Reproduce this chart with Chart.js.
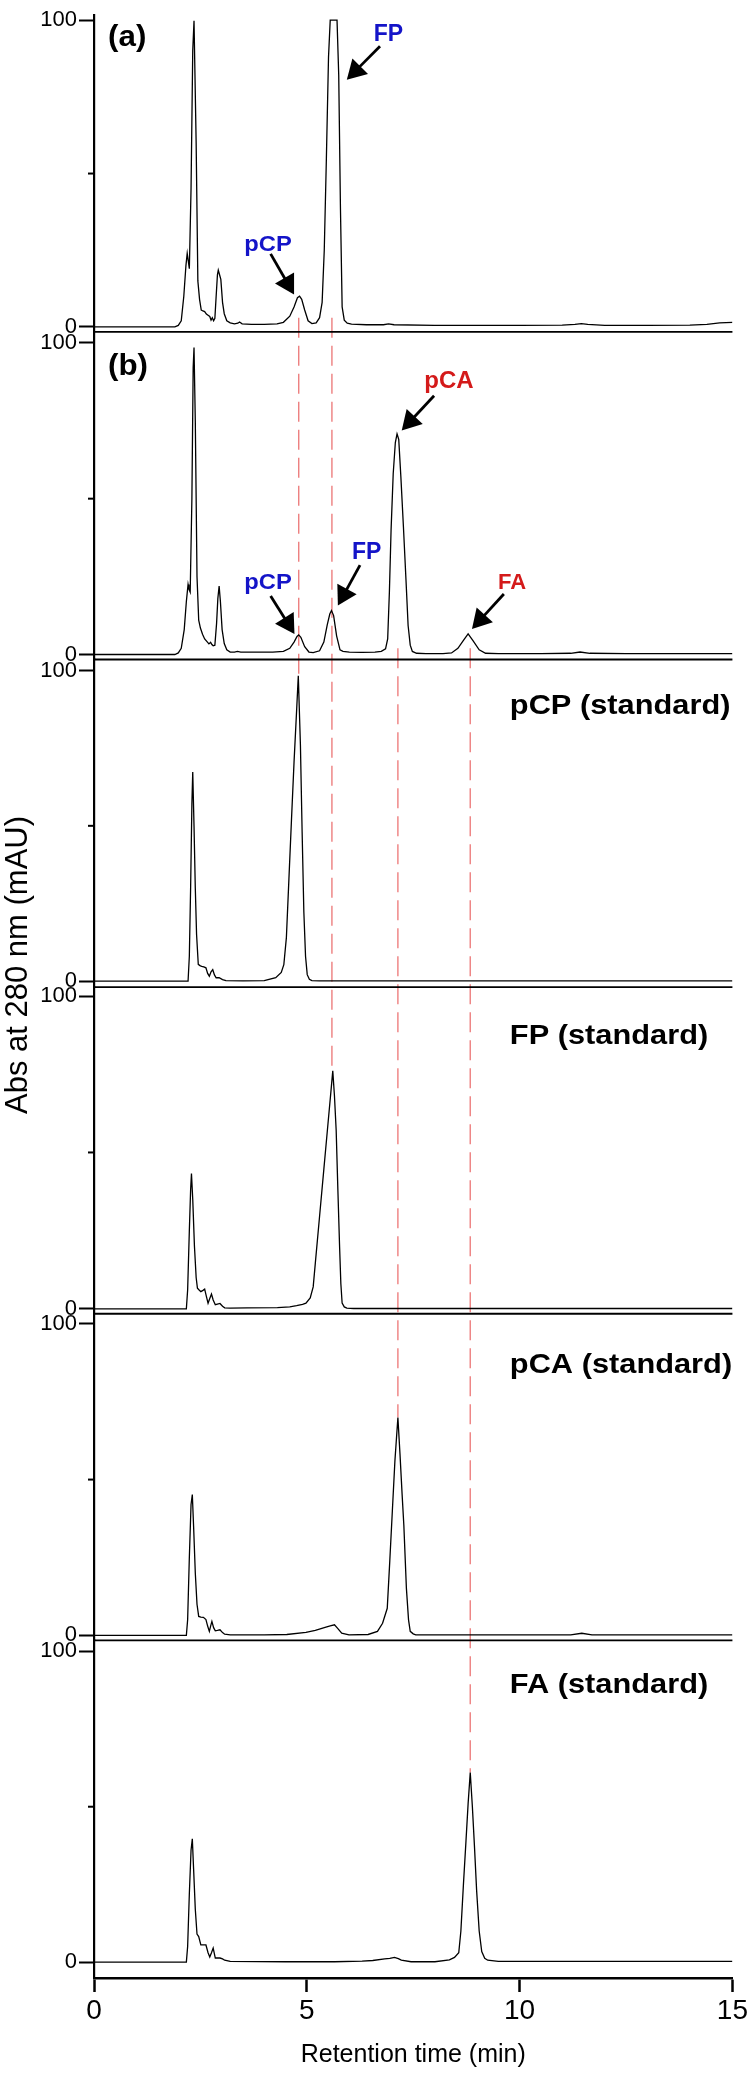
<!DOCTYPE html>
<html>
<head>
<meta charset="utf-8">
<script src="https://cdn.jsdelivr.net/npm/chart.js@4.4.1/dist/chart.umd.min.js"></script>
<style>
  html, body { margin: 0; padding: 0; background: #fff; }
  #wrap { width: 750px; height: 2075px; }
</style>
</head>
<body>
<div id="wrap"><canvas id="c" width="750" height="2075"></canvas></div>
<script>
// ---------------- data (retention time in min, absorbance in mAU) ----------------
const tA = [0, 1.9, 1.98, 2.05, 2.11, 2.16, 2.19, 2.21, 2.24, 2.28, 2.32, 2.35, 2.37, 2.40, 2.44, 2.48, 2.52, 2.56, 2.60, 2.64, 2.68, 2.72, 2.75, 2.78, 2.81, 2.84, 2.87, 2.90, 2.92, 2.95, 2.98, 3.02, 3.06, 3.12, 3.2, 3.3, 3.38, 3.42, 3.48, 3.7, 4.0, 4.3, 4.45, 4.6, 4.7, 4.78, 4.83, 4.88, 4.95, 5.03, 5.12, 5.22, 5.30, 5.36, 5.41, 5.46, 5.51, 5.55, 5.71, 5.75, 5.79, 5.83, 5.88, 5.95, 6.05, 6.4, 6.8, 6.92, 7.05, 8, 9, 10, 11, 11.3, 11.45, 11.6, 12, 13, 14, 14.4, 14.7, 15];
const vA = [0, 0, 0.5, 2, 10, 20, 24, 22, 19, 45, 90, 99.8, 99.8, 60, 15, 9, 5.5, 5.2, 5, 4.2, 3.8, 3.4, 2.2, 3, 2, 2.8, 10, 17, 18.5, 17, 15.5, 8, 4.3, 2, 1.3, 1.0, 1.2, 1.6, 1.0, 0.8, 0.8, 1.0, 1.5, 3.5, 6.5, 9.5, 10.0, 9, 5.5, 2, 1.1, 1.3, 3, 8, 25, 55, 88, 100, 100, 82, 39, 6.5, 2.2, 1.2, 0.9, 0.7, 0.7, 1.0, 0.7, 0.5, 0.5, 0.5, 0.6, 0.8, 1.1, 0.8, 0.5, 0.5, 0.6, 0.8, 1.3, 1.5];

const tB = [0, 1.9, 1.98, 2.05, 2.12, 2.17, 2.21, 2.23, 2.26, 2.30, 2.33, 2.35, 2.38, 2.42, 2.46, 2.50, 2.55, 2.60, 2.65, 2.70, 2.74, 2.77, 2.80, 2.84, 2.88, 2.91, 2.94, 2.97, 3.01, 3.06, 3.12, 3.2, 3.3, 3.37, 3.45, 3.8, 4.2, 4.45, 4.6, 4.7, 4.77, 4.81, 4.86, 4.95, 5.05, 5.15, 5.3, 5.40, 5.48, 5.54, 5.58, 5.63, 5.70, 5.78, 5.85, 6.0, 6.3, 6.6, 6.75, 6.85, 6.90, 6.94, 6.98, 7.03, 7.08, 7.12, 7.16, 7.21, 7.27, 7.33, 7.38, 7.43, 7.48, 7.58, 7.8, 8.2, 8.40, 8.55, 8.68, 8.79, 8.90, 9.05, 9.2, 9.5, 10.5, 11.2, 11.42, 11.65, 12.5, 14, 15];
const vB = [0, 0, 0.5, 2, 8, 17, 22.5, 21, 20, 50, 92, 98.5, 75, 25, 11, 8.5, 6.5, 5, 4.2, 3.4, 3.9, 3.2, 2.8, 3, 10, 18, 22, 17, 8, 3.5, 1.5, 0.8, 0.8, 1.0, 0.8, 0.8, 0.8, 1.0, 2.0, 4.0, 5.8, 6.3, 5.5, 2.5, 0.8, 0.6, 1.2, 4, 9.5, 13, 14.1, 12.5, 6, 1.5, 1.0, 0.8, 0.7, 0.8, 1.0, 1.8, 5, 20, 40, 58, 68, 70.8, 69, 57, 41, 24, 9.3, 3, 1.0, 0.4, 0.3, 0.3, 0.5, 2.0, 4.5, 6.6, 4.5, 1.5, 0.4, 0.3, 0.3, 0.4, 0.8, 0.4, 0.3, 0.3, 0.3];

const tC = [0, 2.21, 2.24, 2.27, 2.30, 2.32, 2.35, 2.38, 2.41, 2.45, 2.49, 2.53, 2.58, 2.63, 2.67, 2.71, 2.75, 2.79, 2.83, 2.87, 2.94, 3.02, 3.1, 3.5, 4.0, 4.27, 4.40, 4.46, 4.52, 4.58, 4.64, 4.70, 4.76, 4.80, 4.85, 4.89, 4.93, 4.97, 5.01, 5.06, 5.12, 5.3, 6, 15];
const vC = [0, 0, 8, 30, 57, 67.3, 50, 30, 15, 5.4, 5.0, 4.8, 4.6, 4.3, 2.5, 1.6, 3.0, 3.7, 2.0, 1.1, 1.1, 0.5, 0.2, 0.1, 0.2, 1.1, 2.8, 5.3, 14, 33, 52, 70.5, 87, 98.3, 75.9, 48, 22.4, 8, 2.1, 0.6, 0.2, 0.1, 0.1, 0.1];

const tD = [0, 2.17, 2.20, 2.24, 2.27, 2.29, 2.32, 2.36, 2.40, 2.43, 2.47, 2.51, 2.56, 2.60, 2.64, 2.68, 2.72, 2.76, 2.80, 2.85, 2.90, 2.96, 3.02, 3.07, 3.2, 3.6, 4.31, 4.6, 4.76, 4.9, 4.98, 5.08, 5.15, 5.20, 5.30, 5.40, 5.50, 5.57, 5.61, 5.65, 5.69, 5.73, 5.77, 5.80, 5.83, 5.88, 5.94, 6.1, 15];
const vD = [0, 0, 6, 25, 38, 43.3, 35, 20, 10, 6.6, 6.0, 5.5, 5.9, 6.3, 4, 1.8, 3.3, 4.7, 2.8, 1.3, 1.5, 1.7, 0.8, 0.3, 0.2, 0.3, 0.4, 0.6, 1.0, 1.4, 1.8, 3.5, 7, 14.6, 29.6, 44.6, 59.6, 70, 76.1, 68, 57, 38, 19.9, 8, 1.8, 0.6, 0.2, 0.1, 0.1];

const tE = [0, 2.17, 2.20, 2.24, 2.28, 2.31, 2.34, 2.38, 2.42, 2.46, 2.51, 2.57, 2.63, 2.67, 2.71, 2.74, 2.77, 2.81, 2.85, 2.90, 2.96, 3.02, 3.07, 3.2, 4.0, 4.53, 4.98, 5.2, 5.43, 5.55, 5.65, 5.73, 5.82, 5.99, 6.44, 6.66, 6.78, 6.89, 6.95, 7.01, 7.07, 7.14, 7.19, 7.24, 7.28, 7.34, 7.39, 7.43, 7.50, 7.56, 8, 11.2, 11.46, 11.7, 15];
const vE = [0, 0, 5, 25, 42, 45.2, 35, 20, 10, 6.1, 5.9, 5.8, 5.1, 3, 1.3, 3.0, 4.5, 2.5, 1.5, 1.6, 1.8, 0.9, 0.4, 0.2, 0.2, 0.3, 1.0, 1.6, 2.6, 3.1, 3.4, 2.2, 0.7, 0.2, 0.3, 1.3, 3.9, 8.7, 24, 40, 56, 69.9, 58, 45, 35.3, 15.1, 5, 1.3, 0.5, 0.2, 0.2, 0.2, 0.7, 0.2, 0.2];

const tF = [0, 2.17, 2.20, 2.24, 2.28, 2.31, 2.34, 2.38, 2.42, 2.46, 2.51, 2.57, 2.63, 2.68, 2.72, 2.76, 2.80, 2.85, 2.90, 2.96, 3.02, 3.07, 3.2, 4.5, 5.65, 6.3, 6.55, 6.83, 6.95, 7.06, 7.15, 7.22, 7.45, 8.01, 8.35, 8.47, 8.57, 8.62, 8.68, 8.74, 8.79, 8.84, 8.89, 8.94, 8.99, 9.05, 9.11, 9.18, 9.25, 9.5, 15];
const vF = [0, 0, 5, 22, 36, 39.7, 30, 17, 9, 8.2, 5.5, 5.5, 5.5, 3, 1.6, 3.0, 4.5, 1.3, 1.3, 1.3, 1.0, 0.6, 0.2, 0.1, 0.1, 0.3, 0.5, 1.0, 1.2, 1.5, 1.1, 0.6, 0.1, 0.1, 0.7, 1.5, 3, 10, 25, 39, 51, 61, 50, 37, 23, 10, 3.4, 1.2, 0.6, 0.2, 0.2];

const xTicks = [0, 5, 10, 15];
const yTicks = [0, 50, 100];
const panelLabels = ['(a)', '(b)', 'pCP (standard)', 'FP (standard)', 'pCA (standard)', 'FA (standard)'];
const peakNames = ['pCP', 'FP', 'pCA', 'FA'];
const peakTimes = [4.81, 5.59, 7.14, 8.84];
const xTitle = 'Retention time (min)';
const yTitle = 'Abs at 280 nm (mAU)';

// ---------------- layout / style config ----------------
const FONT = '"Liberation Sans", Arial, Helvetica, sans-serif';
const BLUE = '#1414c8';
const RED = '#d41a1a';
const GUIDE = 'rgba(236,120,120,0.95)';

const panels = [
  {id: 'yA', t: tA, v: vA, min: -1.62, max: 101.62, w: 318},
  {id: 'yB', t: tB, v: vB, min: -1.60, max: 103.51, w: 329},
  {id: 'yC', t: tC, v: vC, min: -1.92, max: 103.53, w: 329},
  {id: 'yD', t: tD, v: vD, min: -1.59, max: 102.87, w: 328},
  {id: 'yE', t: tE, v: vE, min: -1.60, max: 103.19, w: 328},
  {id: 'yF', t: tF, v: vF, min: -5.13, max: 103.53, w: 339}
];

const guides = [
  {t: peakTimes[0], from: 'yA', v1: 3, to: 'yC', v2: 98},
  {t: peakTimes[1], from: 'yA', v1: 3, to: 'yD', v2: 76},
  {t: peakTimes[2], from: 'yB', v1: 2, to: 'yE', v2: 70},
  {t: peakTimes[3], from: 'yB', v1: 2, to: 'yF', v2: 61}
];

const texts = [
  {s: panelLabels[0], y: 'yA', t: 0.33, v: 91.5, size: 29, color: '#000', sx: 1.08},
  {s: panelLabels[1], y: 'yB', t: 0.33, v: 89.8, size: 29, color: '#000', sx: 1.08},
  {s: panelLabels[2], y: 'yC', t: 9.77, v: 86.0, size: 27, color: '#000', sx: 1.14},
  {s: panelLabels[3], y: 'yD', t: 9.77, v: 84.8, size: 27, color: '#000', sx: 1.14},
  {s: panelLabels[4], y: 'yE', t: 9.77, v: 84.3, size: 27, color: '#000', sx: 1.14},
  {s: panelLabels[5], y: 'yF', t: 9.77, v: 86.6, size: 27, color: '#000', sx: 1.14},
  {s: peakNames[0], y: 'yA', t: 3.53, v: 24.9, size: 22, color: BLUE, sx: 1.08},
  {s: peakNames[1], y: 'yA', t: 6.57, v: 93.1, size: 23, color: BLUE, sx: 1.0},
  {s: peakNames[0], y: 'yB', t: 3.53, v: 21.0, size: 22, color: BLUE, sx: 1.08},
  {s: peakNames[1], y: 'yB', t: 6.06, v: 30.6, size: 23, color: BLUE, sx: 1.0},
  {s: peakNames[2], y: 'yB', t: 7.76, v: 85.4, size: 24, color: RED, sx: 1.0},
  {s: peakNames[3], y: 'yB', t: 9.49, v: 21.0, size: 22, color: RED, sx: 1.0}
];

const arrows = [
  {y: 'yA', t1: 4.15, v1: 23.8, t2: 4.70, v2: 10.6},
  {y: 'yA', t1: 6.72, v1: 91.5, t2: 5.94, v2: 80.6},
  {y: 'yB', t1: 4.15, v1: 18.8, t2: 4.71, v2: 6.6},
  {y: 'yB', t1: 6.25, v1: 28.7, t2: 5.73, v2: 15.7},
  {y: 'yB', t1: 7.99, v1: 83.0, t2: 7.23, v2: 71.9},
  {y: 'yB', t1: 9.63, v1: 19.4, t2: 8.88, v2: 8.2}
];

function drawText(ctx, s, x, y, size, color, sx) {
  ctx.save();
  ctx.translate(x, y);
  ctx.scale(sx, 1);
  ctx.font = 'bold ' + size + 'px ' + FONT;
  ctx.fillStyle = color;
  ctx.textAlign = 'left';
  ctx.textBaseline = 'alphabetic';
  ctx.fillText(s, 0, 0);
  ctx.restore();
}

function drawArrow(ctx, x1, y1, x2, y2) {
  const ang = Math.atan2(y2 - y1, x2 - x1);
  const headLen = 19, headHalf = 11;
  const bx = x2 - headLen * Math.cos(ang), by = y2 - headLen * Math.sin(ang);
  ctx.save();
  ctx.strokeStyle = '#000'; ctx.fillStyle = '#000';
  ctx.lineWidth = 2.8;
  ctx.beginPath(); ctx.moveTo(x1, y1); ctx.lineTo(bx + 2 * Math.cos(ang), by + 2 * Math.sin(ang)); ctx.stroke();
  ctx.beginPath();
  ctx.moveTo(x2, y2);
  ctx.lineTo(bx + headHalf * Math.sin(ang), by - headHalf * Math.cos(ang));
  ctx.lineTo(bx - headHalf * Math.sin(ang), by + headHalf * Math.cos(ang));
  ctx.closePath(); ctx.fill();
  ctx.restore();
}

const overlay = {
  id: 'overlay',
  beforeDatasetsDraw(chart) {
    const ctx = chart.ctx, xs = chart.scales.x;
    ctx.save();
    ctx.strokeStyle = GUIDE; ctx.lineWidth = 1.4; ctx.setLineDash([20, 8]);
    guides.forEach(g => {
      const px = xs.getPixelForValue(g.t);
      ctx.beginPath();
      ctx.moveTo(px, chart.scales[g.from].getPixelForValue(g.v1));
      ctx.lineTo(px, chart.scales[g.to].getPixelForValue(g.v2));
      ctx.stroke();
    });
    ctx.restore();
  },
  afterDatasetsDraw(chart) {
    const ctx = chart.ctx, xs = chart.scales.x, area = chart.chartArea;
    ctx.save();
    ctx.strokeStyle = '#000'; ctx.lineWidth = 1.8;
    panels.slice(0, 5).forEach(p => {
      const sc = chart.scales[p.id];
      ctx.beginPath(); ctx.moveTo(area.left, sc.bottom); ctx.lineTo(area.right, sc.bottom); ctx.stroke();
    });
    ctx.lineWidth = 2;
    panels.forEach(p => {
      const y = chart.scales[p.id].getPixelForValue(yTicks[1]);
      ctx.beginPath(); ctx.moveTo(area.left - 6, y); ctx.lineTo(area.left, y); ctx.stroke();
    });
    ctx.restore();
    arrows.forEach(a => {
      const sc = chart.scales[a.y];
      drawArrow(ctx, xs.getPixelForValue(a.t1), sc.getPixelForValue(a.v1),
                     xs.getPixelForValue(a.t2), sc.getPixelForValue(a.v2));
    });
    texts.forEach(o => {
      drawText(ctx, o.s, xs.getPixelForValue(o.t), chart.scales[o.y].getPixelForValue(o.v), o.size, o.color, o.sx);
    });
    ctx.save();
    ctx.translate(18, 965);
    ctx.rotate(-Math.PI / 2);
    ctx.font = '31px ' + FONT;
    ctx.fillStyle = '#000';
    ctx.textAlign = 'center';
    ctx.textBaseline = 'middle';
    ctx.fillText(yTitle, 0, 0);
    ctx.restore();
  }
};

const scales = {
  x: {
    type: 'linear', position: 'bottom', min: 0, max: 15,
    afterBuildTicks: s => { s.ticks = xTicks.map(v => ({value: v})); },
    afterFit: s => { s.height = 97; },
    ticks: { font: {size: 28, family: FONT}, color: '#000', padding: 2, maxRotation: 0, autoSkip: false },
    grid: { drawOnChartArea: false, tickLength: 14, tickWidth: 2.5, tickColor: '#000' },
    border: { display: true, color: '#000', width: 2.6 },
    title: { display: true, text: xTitle, color: '#000', font: {size: 25, family: FONT}, padding: {top: 0, bottom: 5} }
  }
};
// bottom panel first: stacked left axes are laid out in reverse order
panels.slice().reverse().forEach(p => {
  scales[p.id] = {
    type: 'linear', position: 'left', stack: 'panels', stackWeight: p.w,
    min: p.min, max: p.max,
    afterBuildTicks: s => { s.ticks = yTicks.map(v => ({value: v})); },
    afterFit: s => { s.width = 94; },
    ticks: {
      font: {size: 22, family: FONT}, color: '#000', padding: 2, autoSkip: false,
      callback: v => (v === yTicks[1] ? '' : String(v))
    },
    grid: {
      drawOnChartArea: false, tickLength: 15, tickWidth: 2,
      tickColor: c => (c.tick && c.tick.value === yTicks[1]) ? 'rgba(0,0,0,0)' : '#000'
    },
    border: { display: true, color: '#000', width: 2.2 }
  };
});

const datasets = panels.map(p => ({
  data: p.t.map((t, i) => ({x: t, y: p.v[i]})),
  yAxisID: p.id,
  borderColor: '#000',
  borderWidth: 1.3,
  pointRadius: 0,
  tension: 0,
  fill: false
}));

new Chart(document.getElementById('c'), {
  type: 'line',
  data: { datasets },
  options: {
    responsive: false,
    animation: false,
    events: [],
    layout: { autoPadding: false, padding: {top: 7, right: 14, left: 0, bottom: 0} },
    plugins: { legend: {display: false}, tooltip: {enabled: false}, title: {display: false} },
    scales
  },
  plugins: [overlay]
});
</script>
</body>
</html>
